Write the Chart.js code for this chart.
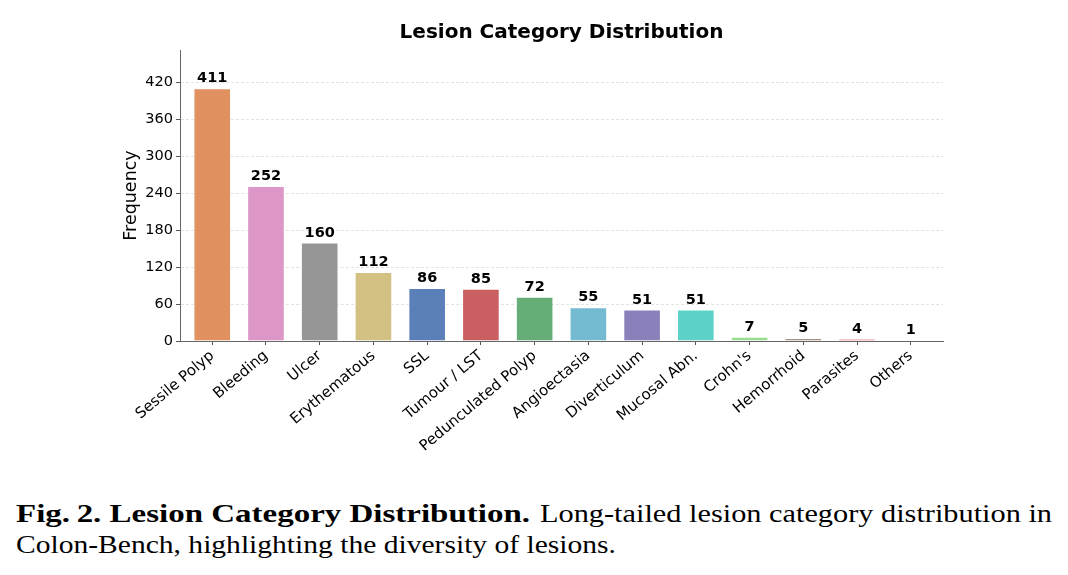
<!DOCTYPE html>
<html>
<head>
<meta charset="utf-8">
<script src="https://cdn.jsdelivr.net/npm/chart.js@4.4.1/dist/chart.umd.min.js"></script>
<style>
    html, body { margin: 0; padding: 0; background: #fff; }
    body { width: 1068px; height: 575px; position: relative; overflow: hidden; }
    #chart-box { position: absolute; left: 0; top: 0; width: 1068px; height: 480px; }
    #caption { position: absolute; left: 16px; top: 499px; width: 1050px; font-family: "Liberation Serif", serif; font-size: 25px; line-height: 30.5px; color: #000; }
    #caption .line { position: relative; height: 30.5px; white-space: nowrap; }
    #caption .part { position: absolute; top: 0; display: inline-block; transform-origin: left center; }
</style>
</head>
<body>
<div id="chart-box"><canvas id="lesion-chart"></canvas></div>
<div id="caption">
    <div class="line">
        <span class="part" id="cap-bold" style="left:0"><b>Fig.&#8201;2. Lesion Category Distribution.</b></span>
        <span class="part" id="cap-rest" style="left:524px">Long-tailed lesion category distribution in</span>
    </div>
    <div class="line">
        <span class="part" id="cap-2" style="left:0">Colon-Bench, highlighting the diversity of lesions.</span>
    </div>
</div>
<script>
// Dados
const categories = ['Sessile Polyp', 'Bleeding', 'Ulcer', 'Erythematous', 'SSL', 'Tumour / LST',
    'Pedunculated Polyp', 'Angioectasia', 'Diverticulum', 'Mucosal Abn.', "Crohn's", 'Hemorrhoid',
    'Parasites', 'Others'];
const counts = [411, 252, 160, 112, 86, 85, 72, 55, 51, 51, 7, 5, 4, 1];
const barColors = ['#e0915f', '#dc96c8', '#969696', '#d2c183', '#5b7fb8', '#c95f60', '#66ae77',
    '#74bbd2', '#8a80ba', '#5dd2c8', '#98dd8f', '#a89080', '#f08080', '#b8b8b8'];
const yMajorStep = 60;
const yMinorStep = 30;
const yMax = 473;

const FONT = "'DejaVu Sans', sans-serif";

// Rótulos de valor acima das barras
const valueLabels = {
    id: 'valueLabels',
    afterDatasetsDraw(chart) {
        const ctx = chart.ctx;
        const meta = chart.getDatasetMeta(0);
        ctx.save();
        ctx.font = 'bold 14.5px ' + FONT;
        ctx.fillStyle = '#000';
        ctx.textAlign = 'center';
        ctx.textBaseline = 'alphabetic';
        meta.data.forEach((bar, i) => {
            ctx.fillText(String(counts[i]), bar.x, bar.y - 6);
        });
        ctx.restore();
    }
};

const ctxChart = document.getElementById('lesion-chart').getContext('2d');
new Chart(ctxChart, {
    type: 'bar',
    data: {
        datasets: [{
            data: counts.map((v, i) => ({ x: i, y: v })),
            backgroundColor: barColors,
            borderColor: 'rgba(255,255,255,0.7)',
            borderWidth: 1,
            categoryPercentage: 1,
            barPercentage: 0.7
        }]
    },
    options: {
        responsive: true,
        maintainAspectRatio: false,
        animation: false,
        layout: { padding: { left: 0, right: 125, top: 0, bottom: 0 } },
        plugins: {
            legend: { display: false },
            tooltip: { enabled: false },
            title: {
                display: true,
                text: 'Lesion Category Distribution',
                fullSize: false,
                color: '#000',
                font: { family: FONT, size: 20, weight: 'bold' },
                padding: { top: 21, bottom: 5 }
            }
        },
        scales: {
            x: {
                type: 'linear',
                offset: false,
                min: -0.6,
                max: 13.6,
                afterBuildTicks: (scale) => {
                    scale.ticks = categories.map((c, i) => ({ value: i }));
                },
                afterFit: (scale) => { scale.height = 139; },
                ticks: {
                    autoSkip: false,
                    minRotation: 40,
                    maxRotation: 40,
                    padding: 2,
                    color: '#000',
                    font: { family: FONT, size: 15 },
                    callback: (v) => categories[v]
                },
                grid: { offset: false, drawOnChartArea: false, drawTicks: true, tickLength: 4, tickColor: '#555' },
                border: { display: true, color: '#666', width: 1 }
            },
            y: {
                min: 0,
                max: yMax,
                afterFit: (scale) => { scale.width = 180; },
                ticks: {
                    stepSize: yMinorStep,
                    includeBounds: false,
                    padding: 3,
                    color: '#000',
                    font: { family: FONT, size: 14.5 },
                    callback: (v) => (v % yMajorStep === 0 ? v : '')
                },
                grid: {
                    color: (c) => (c.tick && c.tick.value % yMajorStep === 0 && c.tick.value > 0 ? 'rgba(0,0,0,0.11)' : 'rgba(0,0,0,0)'),
                    lineWidth: 1,
                    tickLength: 4,
                    tickColor: '#555'
                },
                border: { display: true, color: '#666', width: 1, dash: [3, 2] },
                title: {
                    display: true,
                    text: 'Frequency',
                    color: '#000',
                    font: { family: FONT, size: 17.5 },
                    padding: { top: 121, bottom: 0 }
                }
            }
        }
    },
    plugins: [valueLabels]
});

// Ajusta a largura dos trechos da legenda (fonte serif substituta)
const fitPart = (id, target) => {
    const el = document.getElementById(id);
    const w = el.getBoundingClientRect().width;
    if (w > 0) el.style.transform = 'scaleX(' + (target / w) + ')';
};
fitPart('cap-bold', 514);
fitPart('cap-rest', 512);
fitPart('cap-2', 600);
</script>
</body>
</html>
